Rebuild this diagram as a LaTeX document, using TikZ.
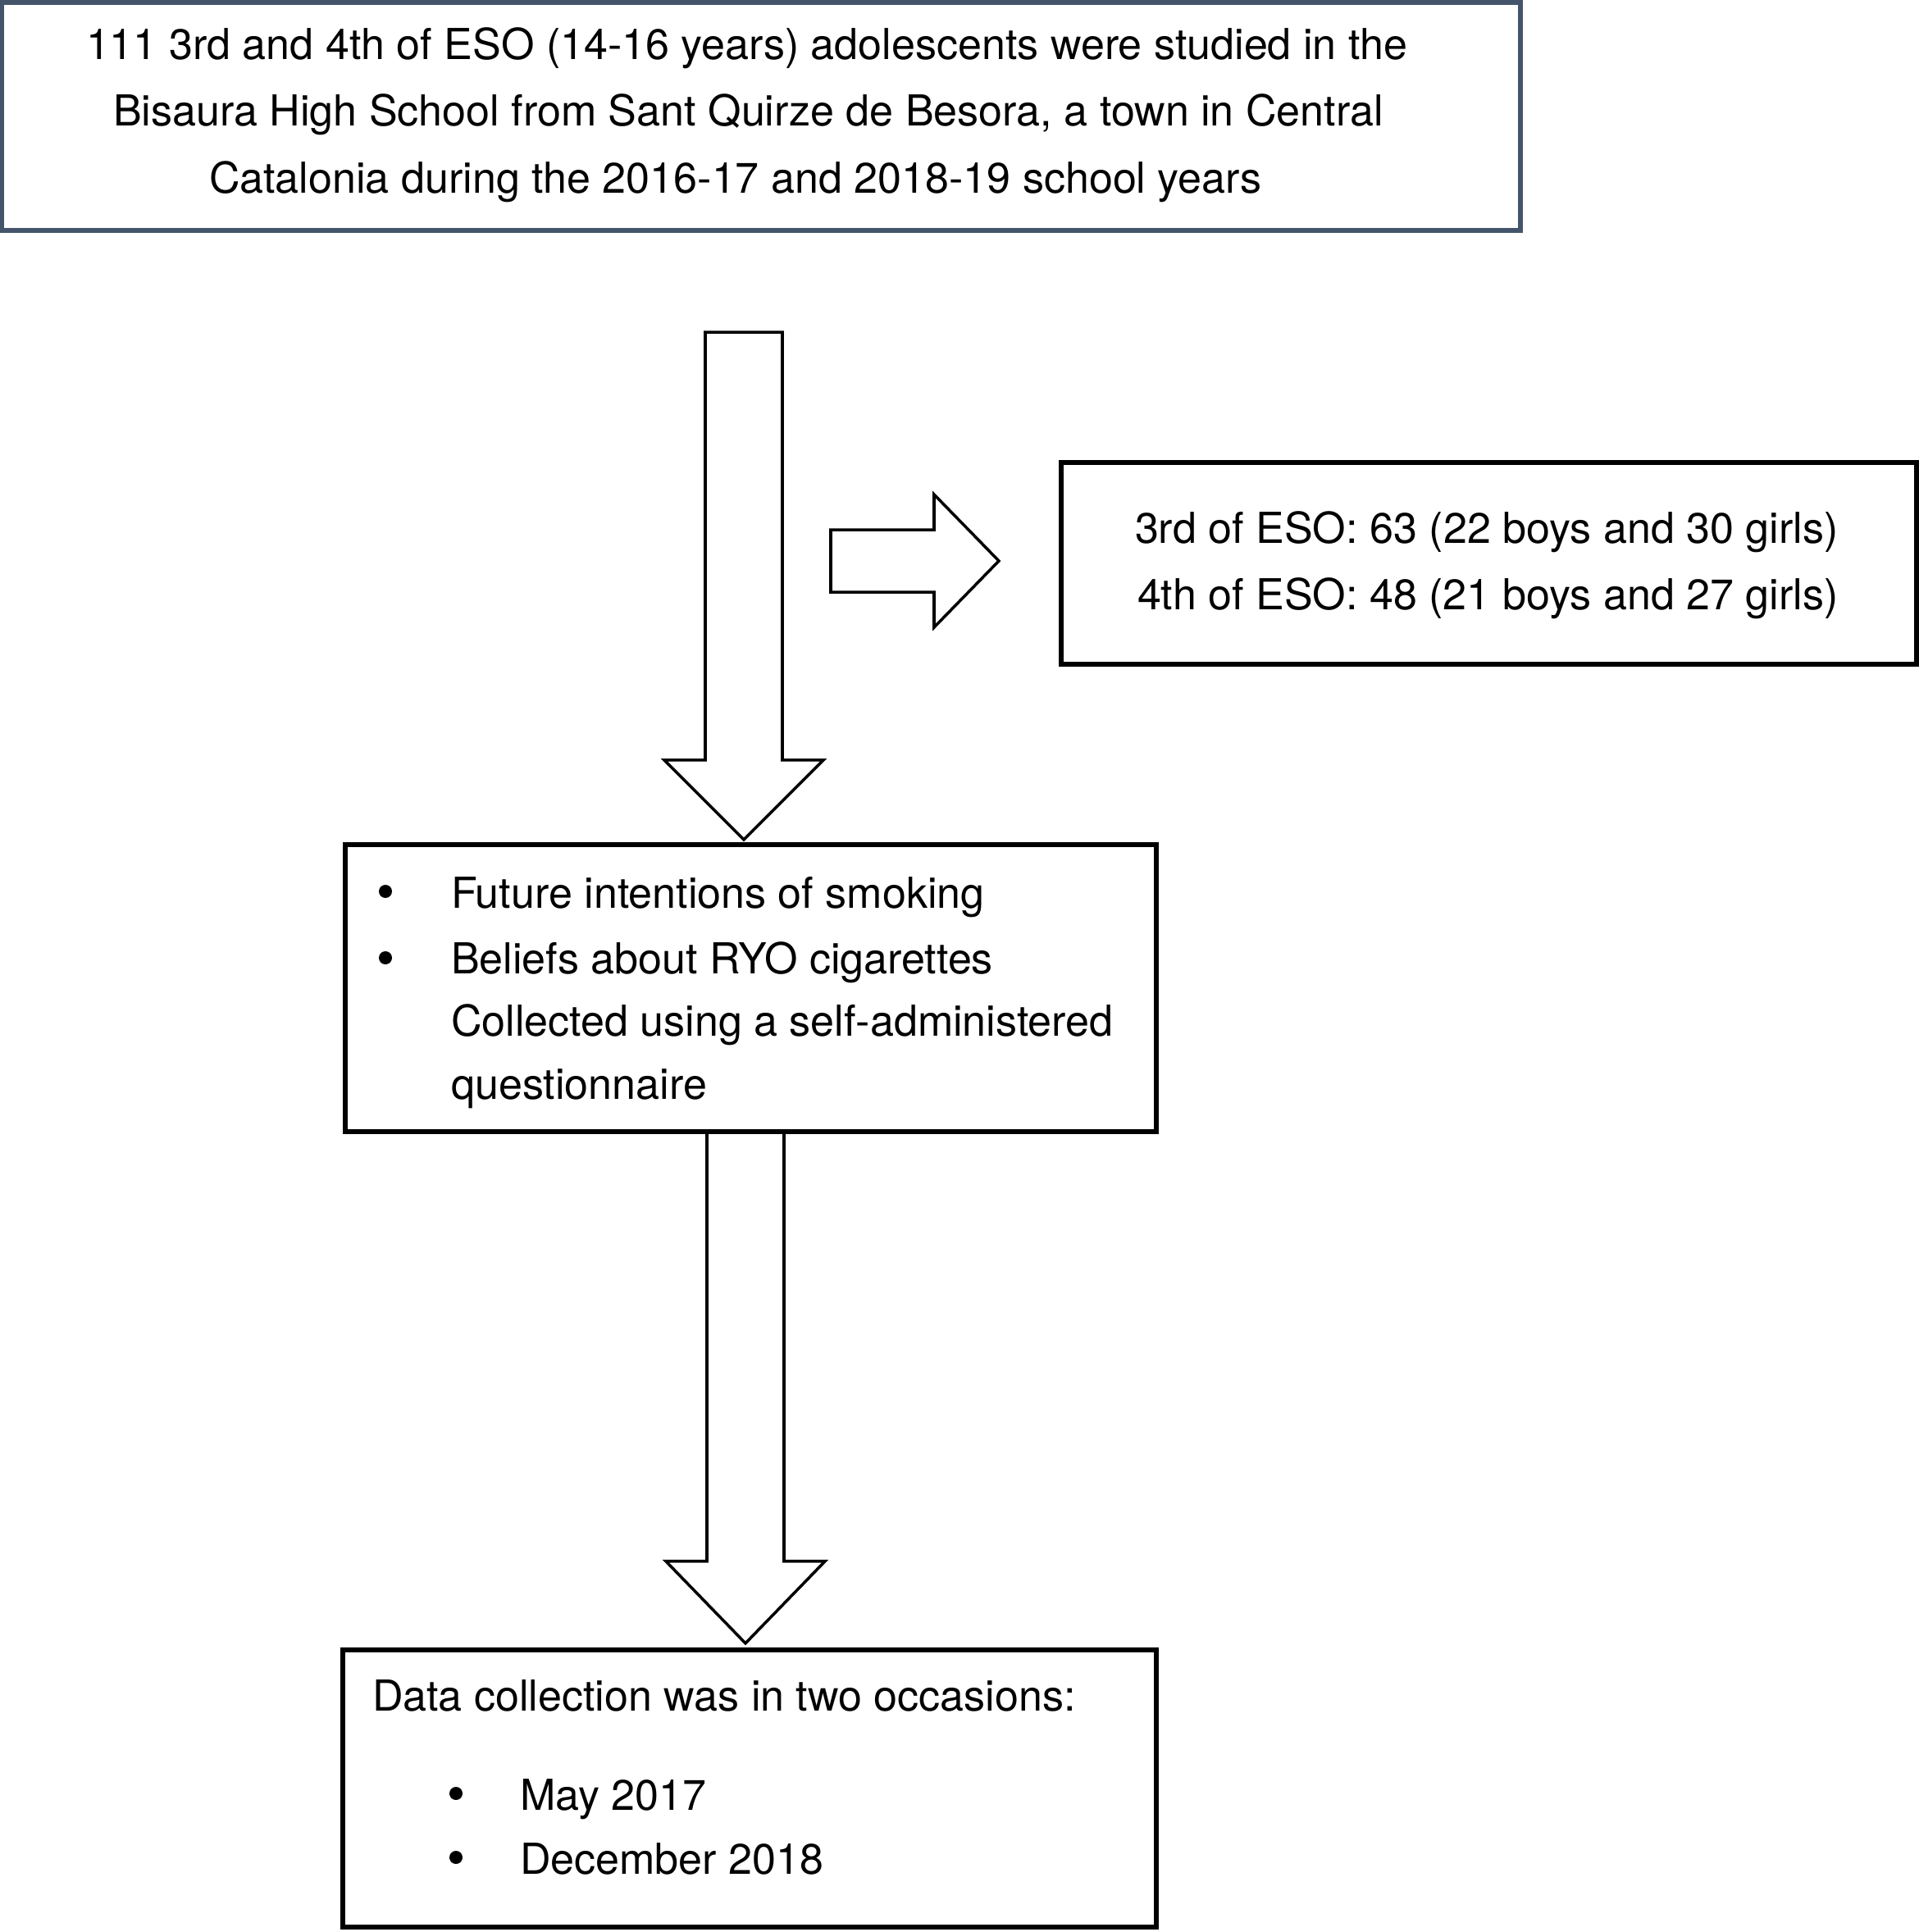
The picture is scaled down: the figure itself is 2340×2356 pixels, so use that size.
\documentclass[tikz,border=0pt]{standalone}
\usepackage{fontspec}
\setmainfont{TeX Gyre Heros}
\usetikzlibrary{calc}
\definecolor{slate}{RGB}{68,84,106}
\pgfdeclarelayer{back}
\pgfsetlayers{back,main}
\begin{document}
\begin{tikzpicture}[x=0.01cm,y=-0.01cm,
  box/.style={draw=black,line width=1.7pt,rectangle,inner sep=0pt,outer sep=0pt,fill=white},
  txt/.style={font=\fontsize{14.8pt}{23pt}\selectfont,inner sep=0pt,outer sep=0pt},
  bul/.style={circle,fill=black,draw=none,inner sep=0pt,outer sep=0pt,minimum size=0.16cm},
  barrow/.style={draw=black,line width=1pt,fill=white,line join=miter}]
\useasboundingbox (0,0) rectangle (2340,2356);

% boxes
\node[box,draw=slate,minimum width=18.50cm,minimum height=2.78cm] (top) at (928,142) {};
\node[box,minimum width=10.43cm,minimum height=2.46cm] (right) at (1815.5,687) {};
\node[box,minimum width=9.89cm,minimum height=3.50cm] (mid) at (915.5,1205) {};
\node[box,minimum width=9.92cm,minimum height=3.38cm] (bot) at (914,2181) {};

% arrows
\coordinate (a1top) at (907,405);
\coordinate (a1tip) at ($(a1top |- mid.north)+(0,-6)$);
\coordinate (a2top) at ($(mid.south)+(-6.5,0)$);
\coordinate (a2tip) at ($(a2top |- bot.north)+(0,-8)$);
\coordinate (a3s) at (1013,684);
\coordinate (a3t) at (1218,684);
\begin{pgfonlayer}{back}
\draw[barrow] ($(a1top)+(-47,0)$) -- ($(a1tip)+(-47,-97)$) -- ($(a1tip)+(-97,-97)$) -- (a1tip)
  -- ($(a1tip)+(97,-97)$) -- ($(a1tip)+(47,-97)$) -- ($(a1top)+(47,0)$) -- cycle;
\draw[barrow] ($(a2top)+(-47,0)$) -- ($(a2tip)+(-47,-100)$) -- ($(a2tip)+(-97,-100)$) -- (a2tip)
  -- ($(a2tip)+(97,-100)$) -- ($(a2tip)+(47,-100)$) -- ($(a2top)+(47,0)$);
\end{pgfonlayer}
\draw[barrow] ($(a3s)+(0,-38)$) -- ($(a3t)+(-79,-38)$) -- ($(a3t)+(-79,-81)$) -- (a3t)
  -- ($(a3t)+(-79,81)$) -- ($(a3t)+(-79,38)$) -- ($(a3s)+(0,38)$) -- cycle;

% top text
\node[txt,anchor=base west] (t1) at (105,72) {111 3rd and 4th of ESO (14-16 years) adolescents were studied in the};
\node[txt,anchor=base west] (t2) at (138,153) {Bisaura High School from Sant Quirze de Besora, a town in Central};
\node[txt,anchor=base west] (t3) at (255,235) {Catalonia during the 2016-17 and 2018-19 school years};

% right text
\node[txt,anchor=base west] (r1) at (1384,662) {3rd of ESO: 63 (22 boys and 30 girls)};
\node[txt,anchor=base west] (r2) at (1387,743) {4th of ESO: 48 (21 boys and 27 girls)};

% middle text
\node[bul] (mb1) at (470,1087) {};
\node[bul] (mb2) at (470,1168) {};
\node[txt,anchor=base west] (m1) at (550,1107) {Future intentions of smoking};
\node[txt,anchor=base west] (m2) at (550,1187) {Beliefs about RYO cigarettes};
\node[txt,anchor=base west] (m3) at (550,1263) {Collected using a self-administered};
\node[txt,anchor=base west] (m4) at (550,1340) {questionnaire};

% bottom text
\node[txt,anchor=base west] (b0) at (454,2086) {Data collection was in two occasions:};
\node[bul] (bb1) at (556,2187) {};
\node[bul] (bb2) at (556,2265) {};
\node[txt,anchor=base west] (b1) at (634,2207) {May 2017};
\node[txt,anchor=base west] (b2) at (634,2285) {December 2018};
\end{tikzpicture}
\end{document}
